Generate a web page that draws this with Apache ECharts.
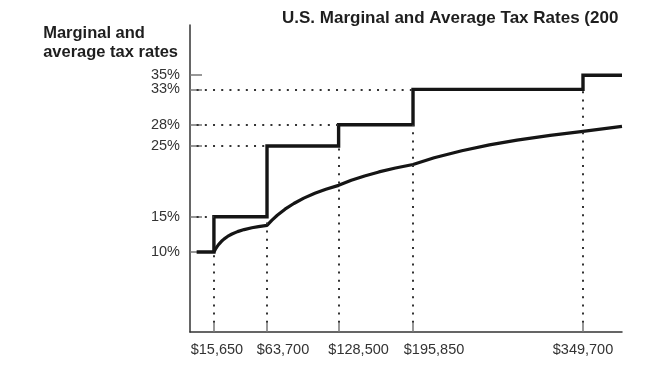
<!DOCTYPE html>
<html>
<head>
<meta charset="utf-8">
<script src="https://cdn.jsdelivr.net/npm/echarts@6/dist/echarts.min.js"></script>
<style>
  html, body { margin: 0; padding: 0; background: #fff; }
  #chart { width: 650px; height: 369px; }
</style>
</head>
<body>
<div id="chart"></div>
<script>
// ---- Data ----
const chartTitle = 'U.S. Marginal and Average Tax Rates (2007)';
const yAxisTitle = 'Marginal and\naverage tax rates';
const brackets = [15650, 63700, 128500, 195850, 349700];          // income thresholds
const bracketLabels = ['$15,650', '$63,700', '$128,500', '$195,850', '$349,700'];
const marginalRates = [10, 15, 25, 28, 33, 35];                    // % rate in each bracket
const rateTicks = [10, 15, 25, 28, 33, 35];
const rateTickLabels = ['10%', '15%', '25%', '28%', '33%', '35%'];
const incomeEnd = 385000;
const avgIncome = [15650, 17000, 18500, 20000, 22500, 25000, 28000, 32000, 37000, 43000, 50000, 56000, 63700,
                   68000, 73000, 80000, 88000, 97000, 107000, 117000, 128500,
                   140000, 152000, 165000, 180000, 195850,
                   215000, 240000, 265000, 290000, 320000, 349700, 385000];
const avgRate   = [10.0, 10.4, 10.77, 11.09, 11.52, 11.87, 12.21, 12.55, 12.89, 13.18, 13.44, 13.6, 13.77,
                   14.48, 15.2, 16.06, 16.87, 17.63, 18.32, 18.89, 19.43,
                   20.14, 20.76, 21.33, 21.88, 22.38,
                   23.33, 24.33, 25.15, 25.83, 26.5, 27.05, 27.78];

// ---- Build series data ----
const marginalData = [[0, marginalRates[0]]];
brackets.forEach((b, i) => marginalData.push([b, marginalRates[i + 1]]));
marginalData.push([incomeEnd, marginalRates[marginalRates.length - 1]]);
const avgData = avgIncome.map((x, i) => [x, avgRate[i]]);

const guideLines = [];
brackets.forEach((b, i) => {
  guideLines.push([{ coord: [b, 0] }, { coord: [b, marginalRates[i]] }]);
  if (i < brackets.length - 1) {
    guideLines.push([{ coord: [0, marginalRates[i + 1]] }, { coord: [b, marginalRates[i + 1]] }]);
  }
});

// label horizontal nudges (px) as in the reference
const labelShift = [3, 16, 20, 21, 0];

const FONT = '"Liberation Sans", Arial, Helvetica, sans-serif';
const chart = echarts.init(document.getElementById('chart'), null, { renderer: 'canvas' });
const rich = {};
labelShift.forEach((s, i) => {
  rich['s' + i] = { padding: [0, 0, 0, 2 * s], fontSize: 14.5, color: '#333', fontFamily: FONT };
});

// Two overlaid y axes so that the close 33% / 35% labels are both kept
function rateAxis(values, showLine) {
  return {
    type: 'value', min: -1.3, max: 42.1, position: 'left', offset: 0,
    axisLine: { show: showLine, onZero: false, lineStyle: { color: '#333', width: 1.5 } },
    axisTick: { show: true, inside: true, length: 12, customValues: values,
                lineStyle: { color: '#777', width: 1.5 } },
    axisLabel: {
      customValues: values, margin: 10, hideOverlap: false,
      showMinLabel: true, showMaxLabel: true,
      fontFamily: FONT, fontSize: 14.5, color: '#333',
      formatter: v => rateTickLabels[rateTicks.indexOf(v)]
    },
    splitLine: { show: false }
  };
}

chart.setOption({
  animation: false,
  backgroundColor: '#ffffff',
  title: [
    {
      text: chartTitle,
      left: 282, top: 8, padding: 0,
      textStyle: {
        fontFamily: FONT, fontSize: 17, fontWeight: 'bold', color: '#1e1e1e',
        lineHeight: 20, width: 340, overflow: 'truncate', ellipsis: ''
      }
    },
    {
      text: yAxisTitle,
      right: 472, top: 24, padding: 0,
      textStyle: {
        fontFamily: FONT, fontSize: 16.5, fontWeight: 'bold', color: '#1e1e1e',
        lineHeight: 19, align: 'right'
      }
    }
  ],
  grid: { left: 190, right: 28, top: 25, bottom: 37, containLabel: false },
  xAxis: {
    type: 'value', min: -6000, max: incomeEnd,
    axisLine: { show: true, onZero: false, lineStyle: { color: '#333', width: 1.5 } },
    axisTick: { show: true, inside: true, length: 9, customValues: brackets,
                lineStyle: { color: '#777', width: 1.5 } },
    axisLabel: {
      customValues: brackets, margin: 10, hideOverlap: false,
      showMinLabel: true, showMaxLabel: true,
      fontFamily: FONT, fontSize: 14.5, color: '#333',
      formatter: v => { const i = brackets.indexOf(v); return '{s' + i + '|' + bracketLabels[i] + '}'; },
      rich: rich
    },
    splitLine: { show: false }
  },
  yAxis: [
    rateAxis(rateTicks.slice(0, rateTicks.length - 1), true),
    rateAxis(rateTicks.slice(rateTicks.length - 1), false)
  ],
  series: [
    {
      name: 'guides', type: 'line', data: [], silent: true, z: 1,
      markLine: {
        silent: true, symbol: ['none', 'none'], animation: false,
        label: { show: false },
        lineStyle: { color: '#333', width: 2, type: [2, 6.2], cap: 'butt' },
        emphasis: { disabled: true },
        data: guideLines
      }
    },
    {
      name: 'Average tax rate', type: 'line', data: avgData, showSymbol: false, z: 3,
      lineStyle: { color: '#151515', width: 3.2, join: 'round' }, silent: true
    },
    {
      name: 'Marginal tax rate', type: 'line', step: 'end', data: marginalData, showSymbol: false, z: 4,
      lineStyle: { color: '#151515', width: 3.4, join: 'miter' }, silent: true
    }
  ]
});
</script>
</body>
</html>
